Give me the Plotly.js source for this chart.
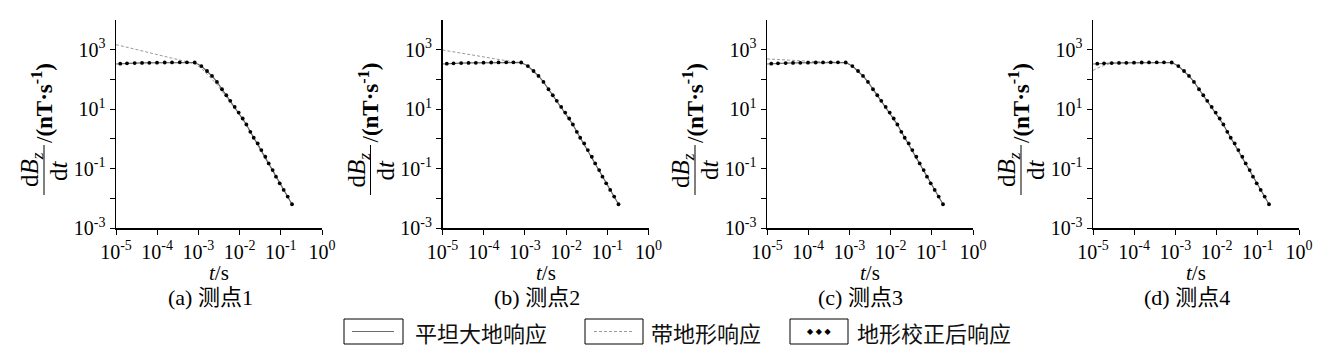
<!DOCTYPE html>
<html>
<head>
<meta charset="utf-8">
<script src="https://cdn.plot.ly/plotly-3.0.1.min.js"></script>
<style>html,body{margin:0;padding:0;background:#fff;}#chart{width:1332px;height:362px;}</style>
</head>
<body>
<div id="chart"></div>
<script>
// ---- data ----
const timeLine = [1e-5, 1.27e-5, 1.85e-5, 2.84e-5, 4.28e-5, 6.43e-5, 9.89e-5, 1.52e-4, 2.29e-4, 3.52e-4, 5.28e-4, 8.13e-4, 1.18e-3, 1.62e-3, 2.14e-3, 2.82e-3, 3.74e-3, 4.75e-3, 5.94e-3, 7.60e-3, 9.51e-3, 1.19e-2, 1.46e-2, 1.82e-2, 2.20e-2, 2.75e-2, 3.37e-2, 4.21e-2, 5.08e-2, 6.35e-2, 7.64e-2, 9.40e-2, 0.1175, 0.147, 0.187];
const timeMarker = [1.27e-5, 1.85e-5, 2.84e-5, 4.28e-5, 6.43e-5, 9.89e-5, 1.52e-4, 2.29e-4, 3.52e-4, 5.28e-4, 8.13e-4, 1.18e-3, 1.62e-3, 2.14e-3, 2.82e-3, 3.74e-3, 4.75e-3, 5.94e-3, 7.60e-3, 9.51e-3, 1.19e-2, 1.46e-2, 1.82e-2, 2.20e-2, 2.75e-2, 3.37e-2, 4.21e-2, 5.08e-2, 6.35e-2, 7.64e-2, 9.40e-2, 0.1175, 0.147, 0.187];

const flatResponse = [330, 339, 347, 355, 359, 363, 367, 372, 374, 376, 376, 372, 282, 192, 131, 82.2, 46.7, 29.3, 19.0, 11.9, 7.69, 4.84, 3.04, 1.73, 1.09, 0.70, 0.419, 0.250, 0.149, 0.0893, 0.0533, 0.0318, 0.0191, 0.0114, 0.0063];

const terrainP1 = [1479, 1380, 1202, 1047, 912, 794, 692, 603, 525, 457, 398, 339, 240, 155, 107, 67.6, 39.8, 25.7, 17.4, 11.2, 7.60, 4.84, 3.04, 1.73, 1.09, 0.70, 0.419, 0.250, 0.149, 0.0893, 0.0533, 0.0318, 0.0191, 0.0114, 0.0063];
const terrainP2 = [977, 923, 851, 767, 700, 631, 575, 519, 473, 427, 389, 372, 282, 192, 131, 82.2, 46.7, 29.3, 19.0, 11.9, 7.69, 4.84, 3.04, 1.73, 1.09, 0.70, 0.419, 0.250, 0.149, 0.0893, 0.0533, 0.0318, 0.0191, 0.0114, 0.0063];
const terrainP3 = [490, 479, 468, 452, 437, 422, 407, 398, 389, 378, 377, 372, 282, 192, 131, 82.2, 46.7, 29.3, 19.0, 11.9, 7.69, 4.84, 3.04, 1.73, 1.09, 0.70, 0.419, 0.250, 0.149, 0.0893, 0.0533, 0.0318, 0.0191, 0.0114, 0.0063];
const terrainP4 = [200, 240, 295, 351, 359, 363, 367, 372, 374, 376, 376, 372, 282, 192, 131, 82.2, 46.7, 29.3, 19.0, 11.9, 7.69, 4.84, 3.04, 1.73, 1.09, 0.70, 0.419, 0.250, 0.149, 0.0893, 0.0533, 0.0318, 0.0191, 0.0114, 0.0063];

const correctedResponse = [339, 347, 355, 359, 363, 367, 372, 374, 376, 376, 372, 282, 192, 131, 82.2, 46.7, 29.3, 19.0, 11.9, 7.69, 4.84, 3.04, 1.73, 1.09, 0.70, 0.419, 0.250, 0.149, 0.0893, 0.0533, 0.0318, 0.0191, 0.0114, 0.0063];

const terrainSeries = [terrainP1, terrainP2, terrainP3, terrainP4];
const panelCaptions = ['(a) 测点1', '(b) 测点2', '(c) 测点3', '(d) 测点4'];
const legendLabels = ['平坦大地响应', '带地形响应', '地形校正后响应'];

const xTickVals = [1e-5, 1e-4, 1e-3, 1e-2, 1e-1, 1];
const xTickText = ['10<sup>-5</sup>', '10<sup>-4</sup>', '10<sup>-3</sup>', '10<sup>-2</sup>', '10<sup>-1</sup>', '10<sup>0</sup>'];
const yTickVals = [1e-3, 1e-2, 1e-1, 1, 10, 100, 1000];
const yTickText = ['10<sup>-3</sup>', '', '10<sup>-1</sup>', '', '10<sup>1</sup>', '', '10<sup>3</sup>'];

// ---- layout geometry (pixels) ----
const W = 1332, H = 362;
const axisLeft = [116, 442.5, 767, 1093];
const plotW = 206, plotTop = 20, plotBottom = 228;
const px = x => x / W;
const py = y => 1 - y / H;

const serif = 'Liberation Serif';
const cjk = 'Liberation Serif, Noto Sans CJK SC';

const traces = [];
const layout = {
  width: W, height: H,
  margin: {l: 0, r: 0, t: 0, b: 0},
  paper_bgcolor: '#fff', plot_bgcolor: 'rgba(0,0,0,0)',
  showlegend: false,
  font: {family: serif, color: '#000'},
  annotations: [], shapes: []
};

function ann(text, x, y, font, extra) {
  return Object.assign({text: text, x: px(x), y: py(y), xref: 'paper', yref: 'paper',
    showarrow: false, xanchor: 'center', yanchor: 'middle', font: font}, extra || {});
}

for (let i = 0; i < 4; i++) {
  const n = i === 0 ? '' : String(i + 1);
  const xa = 'x' + n, ya = 'y' + n;
  traces.push({x: timeLine, y: terrainSeries[i], xaxis: xa, yaxis: ya, mode: 'lines',
    line: {color: '#9a9a9a', width: 1, dash: '3px,2px'}, hoverinfo: 'skip'});
  traces.push({x: timeLine, y: flatResponse, xaxis: xa, yaxis: ya, mode: 'lines',
    line: {color: '#6a6a6a', width: 1.2}, hoverinfo: 'skip'});
  traces.push({x: timeMarker, y: correctedResponse, xaxis: xa, yaxis: ya, mode: 'markers',
    marker: {color: '#000', size: 3.8, symbol: 'circle'}, hoverinfo: 'skip'});

  const L = axisLeft[i];
  layout['xaxis' + n] = {
    type: 'log', range: [-5, 0], domain: [px(L), px(L + plotW)], anchor: ya,
    showline: true, linecolor: '#000', linewidth: 1.5, mirror: false,
    ticks: 'outside', ticklen: 5, tickwidth: 1, tickcolor: '#000',
    tickmode: 'array', tickvals: xTickVals, ticktext: xTickText,
    tickfont: {family: serif, size: 20, color: '#000'},
    showgrid: false, zeroline: false, fixedrange: true
  };
  layout['yaxis' + n] = {
    type: 'log', range: [-3, 4], domain: [py(plotBottom), py(plotTop)], anchor: xa,
    showline: true, linecolor: '#000', linewidth: 1.5, mirror: false,
    ticks: 'outside', ticklen: 5, tickwidth: 1, tickcolor: '#000',
    tickmode: 'array', tickvals: yTickVals, ticktext: yTickText,
    tickfont: {family: serif, size: 20, color: '#000'},
    showgrid: false, zeroline: false, fixedrange: true
  };

  // x axis title and caption
  layout.annotations.push(ann('<i>t</i>/s', L + plotW / 2, 273, {family: serif, size: 21, color: '#000'}));
  layout.annotations.push(ann(panelCaptions[i], L + plotW / 2 - 9, 297, {family: cjk, size: 22, color: '#000'}));

  // y axis title as rotated fraction
  layout.annotations.push(ann('d<i>B<sub>z</sub></i>', L - 85, 170, {family: serif, size: 25, color: '#000'}, {textangle: -90}));
  layout.annotations.push(ann('d<i>t</i>', L - 58, 170, {family: serif, size: 25, color: '#000'}, {textangle: -90}));
  layout.shapes.push({type: 'line', xref: 'paper', yref: 'paper', x0: px(L - 72), x1: px(L - 72),
    y0: py(145), y1: py(195), line: {color: '#000', width: 1}});
  layout.annotations.push(ann('/<b>(nT·s<sup>-1</sup>)</b>', L - 74, 103, {family: serif, size: 23, color: '#000'}, {textangle: -90}));
}

// ---- legend drawn as boxes ----
const boxes = [[344, 403], [585, 643], [790, 848]];
const legendTextX = [413, 649, 855];
const boxTop = 319, boxBottom = 344, midY = 331.5;
boxes.forEach(b => {
  layout.shapes.push({type: 'rect', xref: 'paper', yref: 'paper', x0: px(b[0]), x1: px(b[1]),
    y0: py(boxBottom), y1: py(boxTop), line: {color: '#000', width: 1}, fillcolor: 'rgba(0,0,0,0)'});
});
layout.shapes.push({type: 'line', xref: 'paper', yref: 'paper', x0: px(352), x1: px(394), y0: py(midY), y1: py(midY),
  line: {color: '#6a6a6a', width: 1.2}});
layout.shapes.push({type: 'line', xref: 'paper', yref: 'paper', x0: px(594), x1: px(634), y0: py(midY), y1: py(midY),
  line: {color: '#9a9a9a', width: 1, dash: '3px,2px'}});
layout.annotations.push(ann('◆ ◆ ◆', 819, midY, {family: 'DejaVu Sans', size: 8, color: '#000'}));
legendLabels.forEach((t, k) => {
  layout.annotations.push(ann(t, legendTextX[k], midY, {family: 'Noto Sans CJK SC', size: 22, color: '#111'}, {xanchor: 'left'}));
});

Plotly.newPlot('chart', traces, layout, {staticPlot: true, displayModeBar: false});
</script>
</body>
</html>
